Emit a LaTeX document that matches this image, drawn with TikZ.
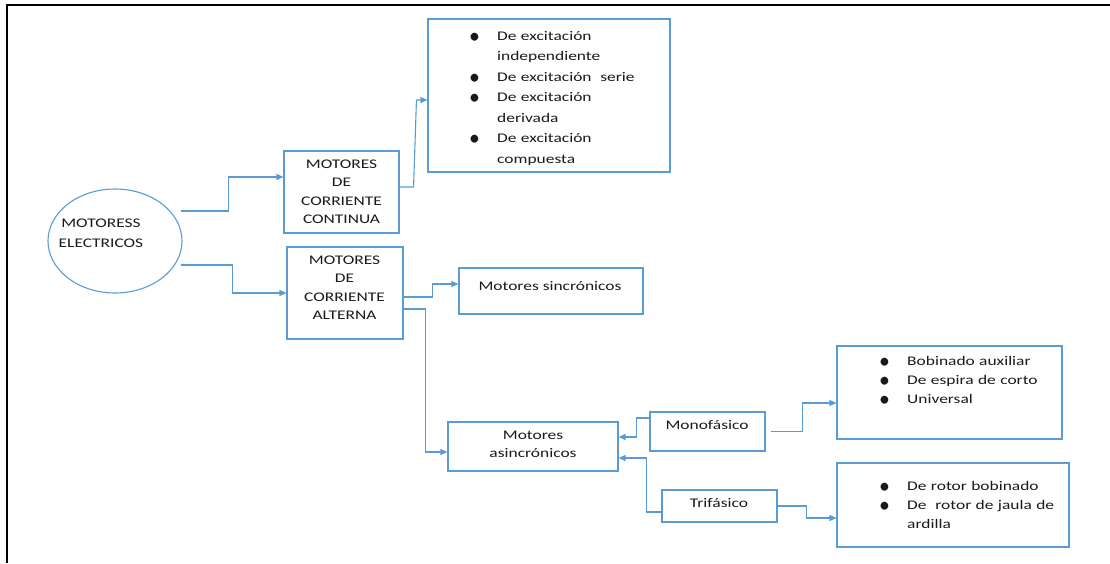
\documentclass[tikz,border=0pt]{standalone}
\usepackage{fontspec}
\usepackage{graphicx}
\setmainfont{Carlito}[FakeStretch=1.32]
\usetikzlibrary{arrows.meta,shapes.geometric}
\definecolor{lnblue}{HTML}{5B9BD5}
\definecolor{txt}{HTML}{1A1A1A}
\newcommand\mybul{\smash{\raisebox{-3pt}{\scalebox{1.25}[1.7]{\textbullet}}}}
\newcommand\bitem[1]{\makebox[28pt][l]{\mybul}#1}
\newcommand\bcont[1]{\hspace*{28pt}#1}
\begin{document}
\begin{tikzpicture}[x=1pt,y=-1pt,
  bx/.style={draw=lnblue,line width=1.1pt,inner sep=0pt},
  arr/.style={draw=lnblue,line width=1.1pt,-{Triangle[length=7pt,width=6pt]}},
  lbl/.style={text=txt,inner sep=0pt,font=\fontsize{13.2}{18.5}\selectfont},
  lst/.style={text=txt,inner sep=0pt,align=left,anchor=base west}]
\useasboundingbox (0,0) rectangle (1110,563);
% frame
\coordinate (f1) at (7,563);
\coordinate (f2) at (7,5);
\coordinate (f3) at (1110,5);
\draw[line width=2.2pt] (f1) -- (f2) -- (f3);
% nodes
\node[ellipse,draw=lnblue,line width=1.1pt,minimum width=134pt,minimum height=104pt,inner sep=0pt] (e) at (115,241) {};
\node[lbl,align=center,text width=100pt,anchor=base,font=\fontsize{13.2}{20}\selectfont] (et) at (101,227) {MOTORESS\\ELECTRICOS};
\node[bx,minimum width=115pt,minimum height=82pt] (cc) at (341.5,192) {};
\node[lbl,align=center,text width=110pt,anchor=base] (cct) at (341.5,168) {MOTORES\\DE\\CORRIENTE\\CONTINUA};
\node[bx,minimum width=116pt,minimum height=92pt] (ca) at (345,293) {};
\node[lbl,align=center,text width=110pt,anchor=base] (cat) at (344.5,264) {MOTORES\\DE\\CORRIENTE\\ALTERNA};
\node[bx,minimum width=242pt,minimum height=153pt] (dc) at (549,95.5) {};
\node[lbl,lst,text width=200pt,font=\fontsize{13.2}{20.5}\selectfont] (dct) at (469,40) {\bitem{De excitación}\\\bcont{independiente}\\\bitem{De excitación\ \ serie}\\\bitem{De excitación}\\\bcont{derivada}\\\bitem{De excitación}\\\bcont{compuesta}};
\node[bx,minimum width=184pt,minimum height=46pt] (sinc) at (551,291) {};
\node[lbl,anchor=base] (sinct) at (550,290) {Motores sincrónicos};
\node[bx,minimum width=170pt,minimum height=49pt] (asinc) at (533,446.5) {};
\node[lbl,align=center,text width=120pt,anchor=base,font=\fontsize{13.2}{18}\selectfont] (asinct) at (533,439) {Motores\\asincrónicos};
\node[bx,minimum width=115pt,minimum height=39pt] (mono) at (707.5,431.5) {};
\node[lbl,anchor=base] (monot) at (707,429) {Monofásico};
\node[bx,minimum width=115pt,minimum height=32pt] (trif) at (719.5,506) {};
\node[lbl,anchor=base] (trift) at (719,507) {Trifásico};
\node[bx,minimum width=225pt,minimum height=93pt] (l1) at (949.5,392.5) {};
\node[lbl,lst,text width=180pt,font=\fontsize{13.2}{19}\selectfont] (l1t) at (879,365) {\bitem{Bobinado auxiliar}\\\bitem{De espira de corto}\\\bitem{Universal}};
\node[bx,minimum width=232pt,minimum height=84pt] (l2) at (953,505) {};
\node[lbl,lst,text width=180pt,font=\fontsize{13.2}{19}\selectfont] (l2t) at (879,490) {\bitem{De rotor bobinado}\\\bitem{De\ \ rotor de jaula de}\\\bcont{ardilla}};
% connectors
\draw[arr] ([shift={(-2,-30)}]e.east) -- ++(48,0) |- ([shift={(0,-15)}]cc.west);
\draw[arr] ([shift={(-2,24)}]e.east) -- ++(52,0) |- (ca.west);
\draw[arr] ([shift={(0,-5)}]cc.east) -- ++(14,0) -- ([shift={(-11,4.5)}]dc.west) -- ([shift={(0,4.5)}]dc.west);
\draw[arr] ([shift={(0,4)}]ca.east) -- ++(29,0) |- ([shift={(0,-7)}]sinc.west);
\draw[arr] ([shift={(0,16)}]ca.east) -- ++(22,0) |- ([shift={(0,5.5)}]asinc.west);
\draw[arr] ([shift={(0,-13.5)}]mono.west) -- ++(-13,0) |- ([shift={(0,-9.5)}]asinc.east);
\draw[arr] ([shift={(0,6)}]trif.west) -- ++(-15,0) |- ([shift={(0,11.5)}]asinc.east);
\draw[arr] ([shift={(5,0)}]mono.east) -- ++(32,0) |- ([shift={(0,10.5)}]l1.west);
\draw[arr] (trif.east) -- ++(29,0) |- ([shift={(0,13)}]l2.west);
\end{tikzpicture}
\end{document}
